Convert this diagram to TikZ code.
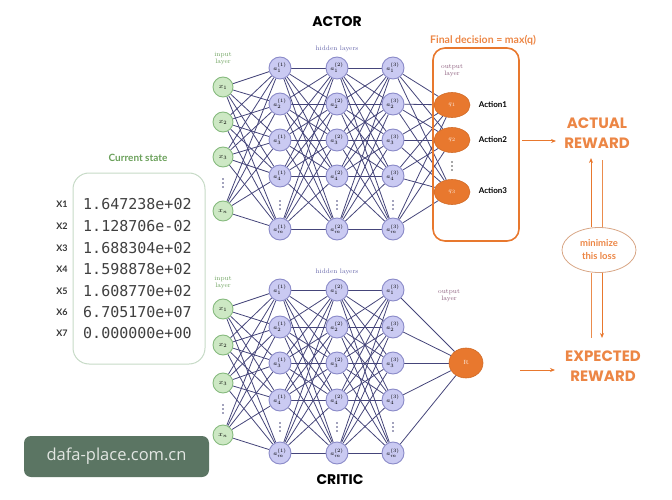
\documentclass[tikz,border=0pt]{standalone}
\usepackage{fontspec}
\newfontfamily\headfont{Poppins}
\newfontfamily\monofont{DejaVu Sans Mono}
\newfontfamily\wmfont{Open Sans}
\newfontfamily\lblfont{Lato}
\usetikzlibrary{backgrounds,arrows.meta,shapes.geometric}
\definecolor{grnfill}{HTML}{CDE8C4}
\definecolor{grndraw}{HTML}{86BA7E}
\definecolor{purfill}{HTML}{CACAF2}
\definecolor{purdraw}{HTML}{8A8AC8}
\definecolor{edgecol}{HTML}{45457A}
\definecolor{orng}{HTML}{E8782E}
\definecolor{orngtxt}{HTML}{EC8645}
\definecolor{lossdraw}{HTML}{D8A685}
\definecolor{statedraw}{HTML}{C6DAC6}
\definecolor{statetxt}{HTML}{6AA05A}
\definecolor{wmfill}{HTML}{5B7563}
\definecolor{wmtxt}{HTML}{E2E6E2}
\definecolor{smallpur}{HTML}{6262A8}
\definecolor{outlab}{HTML}{8A5A7A}
\newcommand{\dotcol}[3][edgecol]{%
  \fill[#1] (#2,#3-4) circle (0.8pt);
  \fill[#1] (#2,#3) circle (0.8pt);
  \fill[#1] (#2,#3+4) circle (0.8pt);}
\begin{document}
\begin{tikzpicture}[x=1pt,y=-1pt,
  inp/.style={circle,draw=grndraw,fill=grnfill,line width=0.9pt,minimum size=20pt,inner sep=0pt,font=\fontsize{7}{7}\selectfont},
  hid/.style={circle,draw=purdraw,fill=purfill,line width=0.9pt,minimum size=22pt,inner sep=0pt,font=\fontsize{6.5}{6.5}\selectfont},
  qnode/.style={ellipse,fill=orng,draw=orng!90!black,line width=0.6pt,minimum width=36pt,minimum height=25pt,inner sep=0pt,text=white!85!orng,font=\fontsize{6}{6}\selectfont},
  edge/.style={draw=edgecol,line width=0.8pt},
  smalllab/.style={font=\fontsize{6.5}{7}\selectfont,align=center,inner sep=0pt},
  headlab/.style={font=\headfont\bfseries\fontsize{14}{14}\selectfont,inner sep=0pt},
  rewlab/.style={font=\headfont\bfseries\fontsize{15}{20}\selectfont,text=orngtxt,align=center,inner sep=0pt},
  actlab/.style={font=\lblfont\bfseries\fontsize{8}{8}\selectfont,inner sep=0pt},
  xlab/.style={font=\lblfont\bfseries\fontsize{9}{9}\selectfont,text=black!80,inner sep=0pt},
  val/.style={font=\monofont\fontsize{15}{15}\selectfont,text=black!75,inner sep=0pt,anchor=west},
  arr/.style={draw=orng,line width=1pt,-{Stealth[length=5pt,width=4pt]}},
  pline/.style={draw=orng!85!white,line width=1pt}
]
\useasboundingbox (0,0) rectangle (672,500);

% ---------- titles ----------
\node[headlab] (actor) at (337,22) {ACTOR};
\node[headlab] (critic) at (340,480) {CRITIC};

% ---------- current state ----------
\node[font=\lblfont\bfseries\fontsize{10}{10}\selectfont,text=statetxt,inner sep=0pt] (cstate) at (138,158) {Current state};
\draw[statedraw,line width=1pt,rounded corners=16pt] (73,173) rectangle (205,364);
\foreach \k/\y/\v in {1/204/1.647238e+02,2/226/1.128706e-02,3/248/1.688304e+02,4/269/1.598878e+02,5/291/1.608770e+02,6/312/6.705170e+07,7/333/0.000000e+00}{
  \node[xlab] (X\k) at (62,\y) {X\k};
  \node[val] (V\k) at (83,\y) {\v};
}

% ---------- ACTOR network ----------
\node[smalllab,text=statetxt] (A-inlab) at (223,59) {input\\layer};
\node[smalllab,text=smallpur] (A-hidlab) at (337,49) {hidden layers};
\foreach \n/\y/\lab in {1/87/x_1,2/122/x_2,3/157/x_3,4/211/x_n}
  \node[inp] (A-i\n) at (223,\y) {$\lab$};
\dotcol{223}{183}
\foreach \l/\xx in {1/280,2/337,3/393}{
  \foreach \k/\y/\s in {1/68/1,2/104/2,3/140/3,4/176/4,5/229/m}
    \node[hid] (A-h\l-\k) at (\xx,\y) {$a^{(\l)}_{\s}$};
  \dotcol{\xx}{205}
}
\draw[orng,line width=1.6pt,rounded corners=12pt] (433,48) rectangle (519,241);
\node[font=\lblfont\bfseries\fontsize{10.5}{10.5}\selectfont,text=orngtxt,inner sep=0pt] (final) at (483,40) {Final decision = max(q)};
\node[smalllab,text=outlab] (A-outlab) at (452,71) {output\\layer};
\foreach \k/\y in {1/105,2/140,3/192}
  \node[qnode] (A-q\k) at (452,\y) {$q_\k$};
\dotcol[black!70]{452}{166}
\node[actlab] (act1) at (493,105) {Action1};
\node[actlab] (act2) at (493,140) {Action2};
\node[actlab] (act3) at (493,191) {Action3};

% ---------- CRITIC network ----------
\node[smalllab,text=statetxt] (C-inlab) at (223,283) {input\\layer};
\node[smalllab,text=smallpur] (C-hidlab) at (337,272) {hidden layers};
\foreach \n/\y/\lab in {1/309/x_1,2/345/x_2,3/383/x_3,4/435/x_n}
  \node[inp] (C-i\n) at (223,\y) {$\lab$};
\dotcol{223}{409}
\foreach \l/\xx in {1/280,2/337,3/393}{
  \foreach \k/\y/\s in {1/290/1,2/327/2,3/363/3,4/400/4,5/453/m}
    \node[hid] (C-h\l-\k) at (\xx,\y) {$a^{(\l)}_{\s}$};
  \dotcol{\xx}{427}
}
\node[smalllab,text=outlab] (C-outlab) at (449,296) {output\\layer};
\node[qnode,minimum width=34pt,minimum height=30pt] (C-R) at (466,363) {R};

% ---------- edges ----------
\begin{pgfonlayer}{background}
\foreach \net in {A,C}{
  \foreach \i in {1,...,4}
    \foreach \k in {1,...,5}
      \draw[edge] (\net-i\i) -- (\net-h1-\k);
  \foreach \l/\m in {1/2,2/3}
    \foreach \i in {1,...,5}
      \foreach \k in {1,...,5}
        \draw[edge] (\net-h\l-\i) -- (\net-h\m-\k);
}
\foreach \i in {1,...,5}{
  \foreach \k in {1,2,3}
    \draw[edge] (A-h3-\i) -- (A-q\k);
  \draw[edge] (C-h3-\i) -- (C-R);
}
\end{pgfonlayer}

% ---------- rewards and loss ----------
\node[rewlab] (actual) at (597,133) {ACTUAL\\REWARD};
\node[rewlab] (expected) at (603,366) {EXPECTED\\REWARD};
\node[ellipse,draw=lossdraw,line width=0.8pt,minimum width=74pt,minimum height=45pt,inner sep=0pt,
      font=\lblfont\bfseries\fontsize{9.5}{13}\selectfont,text=orngtxt,align=center] (loss) at (599,250) {minimize\\this loss};
\coordinate (upL) at (591,158);
\coordinate (upR) at (602,160);
\coordinate (dnL) at (591,338);
\coordinate (dnR) at (602,338);
\draw[arr] (loss.north -| upL) -- (upL);
\draw[pline] (loss.north -| upR) -- (upR);
\draw[pline] (loss.south -| dnL) -- (dnL);
\draw[arr] (loss.south -| dnR) -- (dnR);
\coordinate (aS) at (522,141);
\coordinate (aE) at (556,141);
\draw[arr] (aS) -- (aE);
\coordinate (cS) at (520,370);
\coordinate (cE) at (555,370);
\draw[arr] (cS) -- (cE);

% ---------- watermark ----------
\node[fill=wmfill,rounded corners=7pt,minimum width=185pt,minimum height=41pt,inner sep=0pt,
      font=\wmfont\fontsize{16.5}{16.5}\selectfont,text=wmtxt] (wm) at (116.5,456.5) {dafa-place.com.cn};
\end{tikzpicture}
\end{document}
